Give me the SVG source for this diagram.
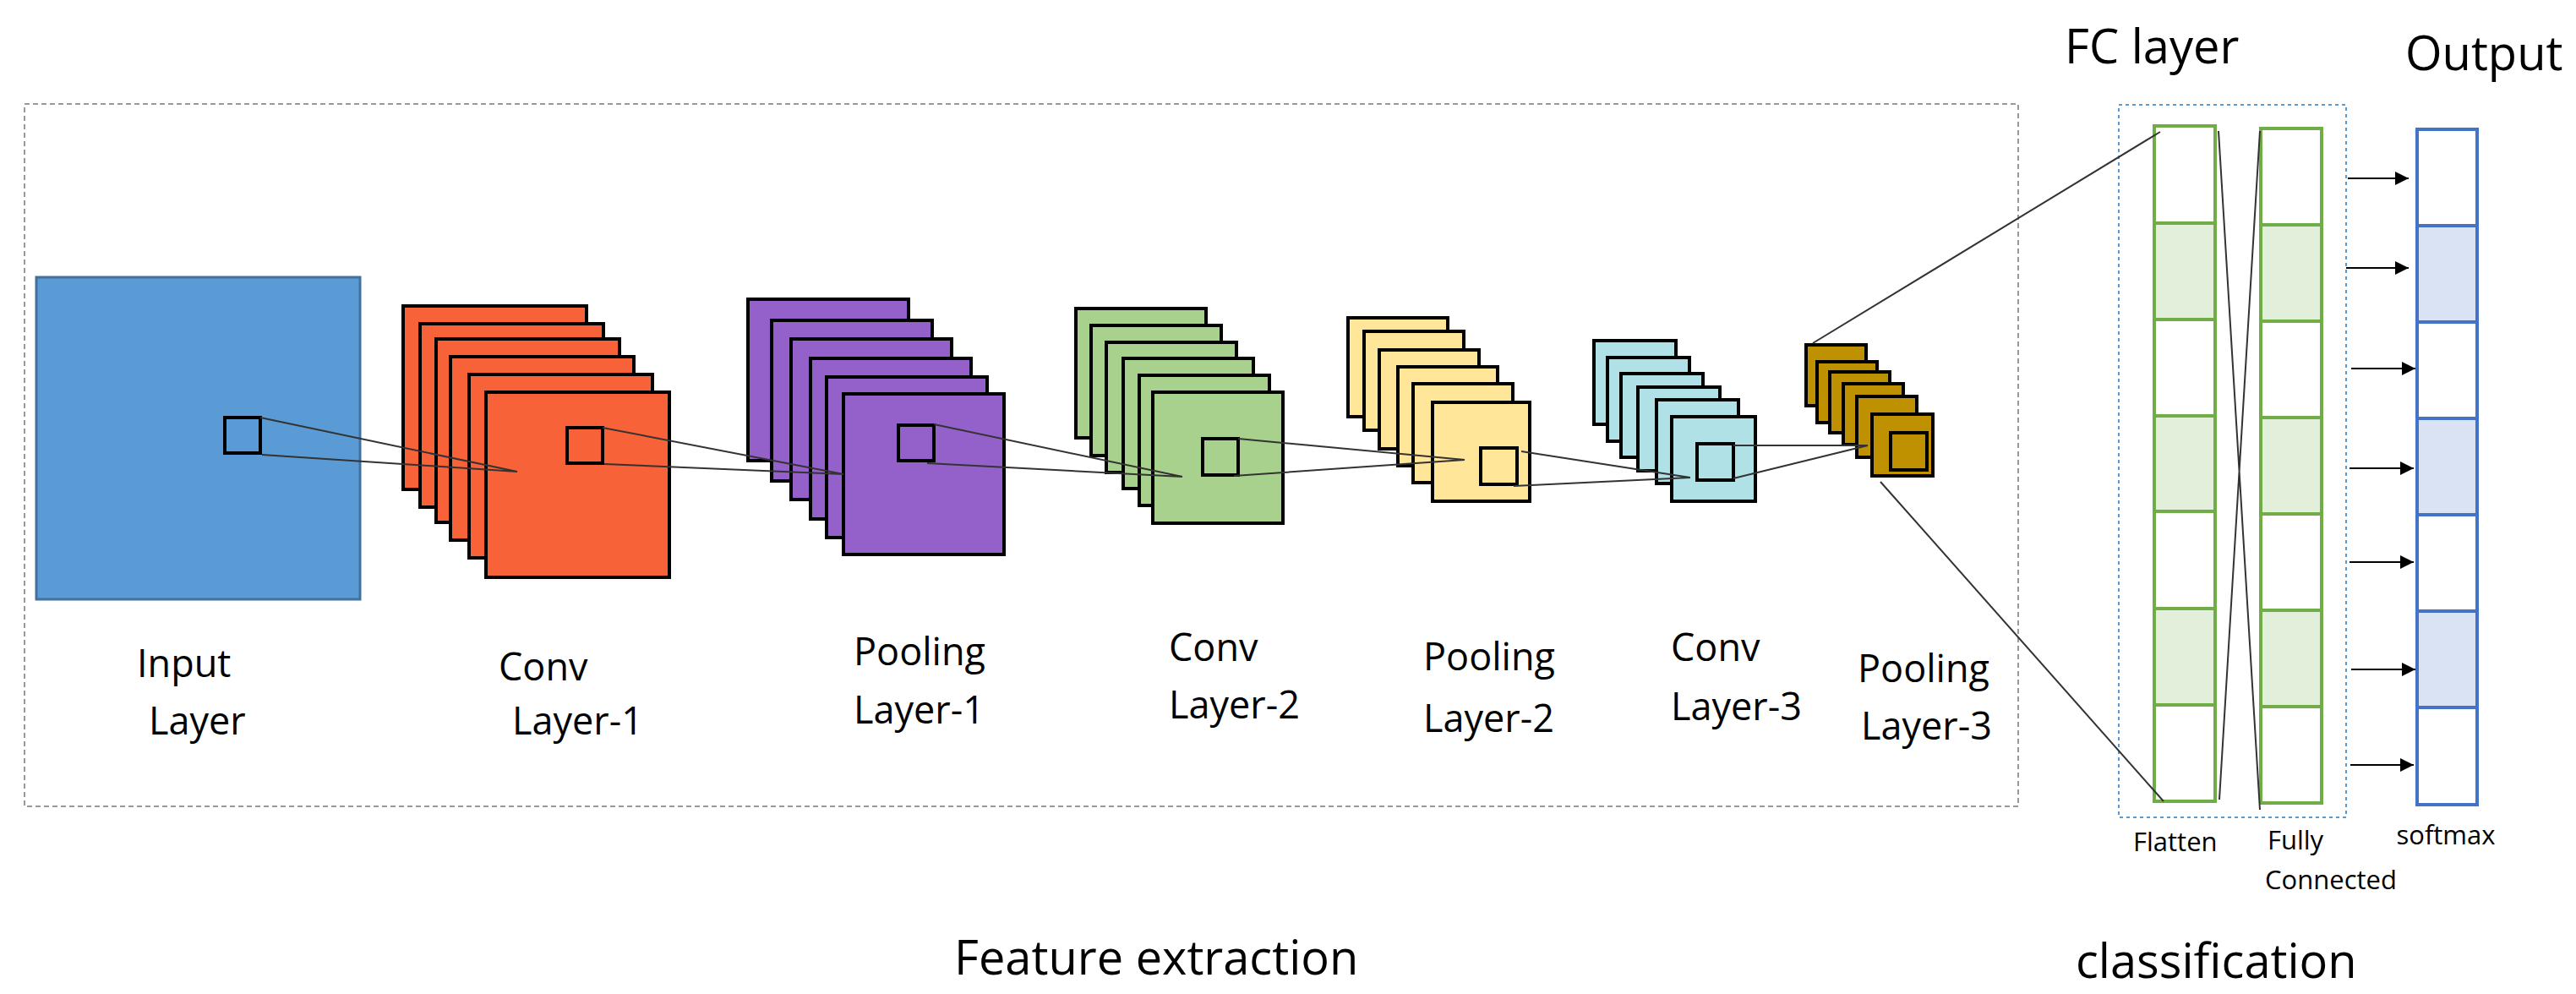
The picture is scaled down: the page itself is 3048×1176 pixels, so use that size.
<svg xmlns="http://www.w3.org/2000/svg" width="3048" height="1176" viewBox="0 0 3048 1176">
<style>
text{font-family:"Open Sans","Noto Sans",sans-serif;fill:#000}
.lbl{font-size:45px}
.sm{font-size:31px}
.big{font-size:56px}
.fm{stroke:#000;stroke-width:4}
.k{stroke:#000;stroke-width:4;fill:none}
.ln{stroke:#333;stroke-width:2;fill:none}
.g{stroke:#70AD47;stroke-width:4}
.b{stroke:#4472C4;stroke-width:4}
.ar{stroke:#000;stroke-width:2;marker-end:url(#ah)}
</style>
<defs><marker id="ah" viewBox="0 0 10 10" refX="10" refY="5" markerWidth="24" markerHeight="16" markerUnits="userSpaceOnUse" orient="auto"><path d="M0,0L10,5L0,10z" fill="#000"/></marker></defs>
<rect x="29" y="123" width="2359" height="831" fill="none" stroke="#999" stroke-width="2" stroke-dasharray="6,4"/>
<rect x="2507" y="124" width="269" height="843" fill="none" stroke="#5B9BD5" stroke-width="2" stroke-dasharray="4,4"/>
<g id="input"><rect x="43" y="328" width="383" height="381" fill="#5B9BD5" stroke="#41719C" stroke-width="3"/><rect class="k" x="266" y="494" width="42" height="42"/><text class="lbl" x="162" y="801">Input</text><text class="lbl" x="176" y="869">Layer</text></g>
<g id="conv1" fill="#F86238"><g class="fm"><rect x="477" y="362" width="217" height="217"/><rect x="497" y="383" width="217" height="217"/><rect x="516" y="401" width="217" height="217"/><rect x="533" y="422" width="217" height="217"/><rect x="555" y="443" width="217" height="217"/><rect x="575" y="464" width="217" height="219"/></g><rect class="k" x="671" y="506" width="42" height="42"/><text class="lbl" x="590" y="805">Conv</text><text class="lbl" x="606" y="869">Layer-1</text></g>
<g id="pool1" fill="#9461CA"><g class="fm"><rect x="885" y="354" width="190" height="191"/><rect x="913" y="379" width="190" height="190"/><rect x="936" y="401" width="190" height="190"/><rect x="959" y="424" width="190" height="190"/><rect x="978" y="446" width="190" height="190"/><rect x="998" y="466" width="190" height="190"/></g><rect class="k" x="1063" y="503" width="42" height="42"/><text class="lbl" x="1010" y="787">Pooling</text><text class="lbl" x="1010" y="856">Layer-1</text></g>
<g id="conv2" fill="#A9D18E"><g class="fm"><rect x="1273" y="365" width="154" height="153"/><rect x="1291" y="385" width="154" height="154"/><rect x="1309" y="405" width="154" height="154"/><rect x="1329" y="424" width="154" height="154"/><rect x="1348" y="444" width="154" height="154"/><rect x="1364" y="464" width="154" height="155"/></g><rect class="k" x="1423" y="519" width="42" height="43"/><text class="lbl" x="1383" y="782">Conv</text><text class="lbl" x="1383" y="850">Layer-2</text></g>
<g id="pool2" fill="#FFE699"><g class="fm"><rect x="1595" y="376" width="118" height="117"/><rect x="1614" y="392" width="118" height="117"/><rect x="1632" y="414" width="118" height="117"/><rect x="1654" y="434" width="118" height="117"/><rect x="1672" y="454" width="118" height="117"/><rect x="1695" y="476" width="115" height="117"/></g><rect class="k" x="1752" y="530" width="43" height="43"/><text class="lbl" x="1684" y="793">Pooling</text><text class="lbl" x="1684" y="866">Layer-2</text></g>
<g id="conv3" fill="#B0E1E6"><g class="fm"><rect x="1886" y="403" width="97" height="99"/><rect x="1902" y="423" width="97" height="99"/><rect x="1918" y="442" width="97" height="99"/><rect x="1938" y="458" width="97" height="99"/><rect x="1960" y="473" width="97" height="99"/><rect x="1978" y="493" width="99" height="100"/></g><rect class="k" x="2008" y="525" width="43" height="43"/><text class="lbl" x="1977" y="782">Conv</text><text class="lbl" x="1977" y="852">Layer-3</text></g>
<g id="pool3" fill="#BF9000"><g class="fm"><rect x="2137" y="408" width="71" height="72"/><rect x="2150" y="428" width="71" height="72"/><rect x="2165" y="440" width="71" height="72"/><rect x="2181" y="454" width="71" height="72"/><rect x="2197" y="469" width="71" height="72"/><rect x="2215" y="490" width="72" height="73"/></g><rect class="k" x="2237" y="512" width="43" height="44"/><text class="lbl" x="2198" y="807">Pooling</text><text class="lbl" x="2202" y="875">Layer-3</text></g>
<g id="flatten"><g class="g" fill="#fff"><rect x="2549" y="149" width="72" height="115"/><rect x="2549" y="264" width="72" height="114" fill="#E2EFDA"/><rect x="2549" y="378" width="72" height="114"/><rect x="2549" y="492" width="72" height="113" fill="#E2EFDA"/><rect x="2549" y="605" width="72" height="115"/><rect x="2549" y="720" width="72" height="114" fill="#E2EFDA"/><rect x="2549" y="834" width="72" height="114"/></g><text class="sm" x="2524" y="1007">Flatten</text></g>
<g id="fc"><g class="g" fill="#fff"><rect x="2675" y="152" width="72" height="114"/><rect x="2675" y="266" width="72" height="114" fill="#E2EFDA"/><rect x="2675" y="380" width="72" height="114"/><rect x="2675" y="494" width="72" height="114" fill="#E2EFDA"/><rect x="2675" y="608" width="72" height="114"/><rect x="2675" y="722" width="72" height="114" fill="#E2EFDA"/><rect x="2675" y="836" width="72" height="114"/></g><text class="sm" x="2716" y="1005" text-anchor="middle">Fully</text><text class="sm" x="2758" y="1052" text-anchor="middle">Connected</text></g>
<g id="output"><g class="b" fill="#fff"><rect x="2860" y="153" width="71" height="114"/><rect x="2860" y="267" width="71" height="114" fill="#DAE3F3"/><rect x="2860" y="381" width="71" height="114"/><rect x="2860" y="495" width="71" height="114" fill="#DAE3F3"/><rect x="2860" y="609" width="71" height="114"/><rect x="2860" y="723" width="71" height="114" fill="#DAE3F3"/><rect x="2860" y="837" width="71" height="115"/></g><text class="sm" x="2894" y="999" text-anchor="middle">softmax</text></g>
<g id="connectors" class="ln">
<path d="M308,494L612,558M310,538L612,558"/>
<path d="M713,506L998,561M715,549L998,561"/>
<path d="M1105,502L1399,564M1097,548L1399,564"/>
<path d="M1465,519L1733,544M1460,563L1733,544"/>
<path d="M1800,534L2000,565M1791,575L2000,565"/>
<path d="M2051,527L2210,527M2051,566L2210,527"/>
<path d="M2145,406L2556,156M2225,570L2560,948"/>
<path d="M2625,155L2674,958M2674,155L2626,946"/>
<line class="ar" x1="2778" y1="211" x2="2850" y2="211"/>
<line class="ar" x1="2776" y1="317" x2="2850" y2="317"/>
<line class="ar" x1="2782" y1="436" x2="2858" y2="436"/>
<line class="ar" x1="2780" y1="554" x2="2856" y2="554"/>
<line class="ar" x1="2780" y1="665" x2="2856" y2="665"/>
<line class="ar" x1="2782" y1="792" x2="2858" y2="792"/>
<line class="ar" x1="2781" y1="905" x2="2856" y2="905"/>
</g>
<text class="big" x="2443" y="75" font-size="60">FC layer</text>
<text class="big" x="2846" y="83">Output</text>
<text class="big" x="1129" y="1153">Feature extraction</text>
<text class="big" x="2456" y="1157">classification</text>
</svg>
